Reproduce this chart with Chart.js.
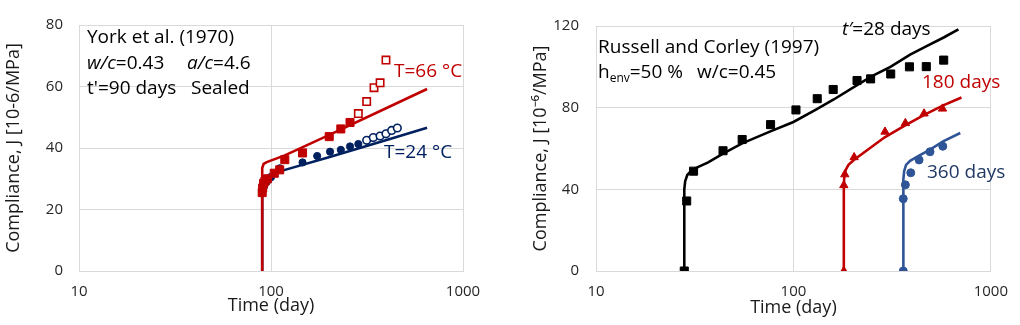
<!DOCTYPE html>
<html>
<head>
<meta charset="utf-8">
<script src="https://cdn.jsdelivr.net/npm/chart.js@4.4.1/dist/chart.umd.min.js"></script>
<style>
  body { margin: 0; background: #fff; width: 1020px; height: 325px; overflow: hidden; }
  #left { position: absolute; left: 0; top: 0; width: 500px; height: 325px; }
  #right { position: absolute; left: 510px; top: 0; width: 510px; height: 325px; }
</style>
</head>
<body>
<div id="left"><canvas id="yorkChart"></canvas></div>
<div id="right"><canvas id="russellChart"></canvas></div>
<script>
////Shared axis ticks
const timeTicks = [10, 100, 1000];

////York et al. (1970), t'=90 days, sealed
// T=66 °C measured (filled, then open squares)
const hotFilledT = [90, 90.5, 91.5, 93, 96, 104, 111, 118, 146, 201, 231, 258];
const hotFilledJ = [25.5, 27, 28.5, 29.2, 30, 31.8, 32.9, 36.2, 38.4, 43.7, 46.2, 48.3];
const hotOpenT = [285, 315, 344, 370, 397];
const hotOpenJ = [51.2, 55.1, 59.6, 61.2, 68.6];
// T=66 °C model
const hotFitT = [90, 90, 91.5, 95, 118, 200, 400, 650];
const hotFitJ = [0, 33.5, 34.8, 35.4, 37.6, 44.2, 53, 59.2];
// T=24 °C measured (filled, then open circles)
const coldFilledT = [92, 95, 100, 111, 146, 174, 203, 231, 258, 285];
const coldFilledJ = [27.5, 29, 30.5, 33.4, 35.3, 37.4, 38.8, 39.4, 40.5, 41.3];
const coldOpenT = [315, 341, 370, 397, 425, 455];
const coldOpenJ = [42.5, 43.4, 43.9, 44.6, 45.7, 46.5];
// T=24 °C model
const coldFitT = [90, 90, 92, 97, 111, 200, 400, 650];
const coldFitJ = [0, 27, 29.5, 31.2, 32.4, 37, 42.6, 46.6];
const yorkTicksY = [0, 20, 40, 60, 80];

////Russell and Corley (1997)
// t'=28 days
const age28T = [28, 28.8, 31.2, 44, 55, 76.6, 103, 132, 159, 210, 246, 311, 387, 471, 577];
const age28J = [0, 34.3, 48.9, 58.9, 64.4, 71.7, 78.9, 84.4, 88.9, 93.3, 94.1, 96.5, 100, 100.1, 103.3];
const age28FitT = [28, 28, 28.3, 29, 30.5, 33, 37, 44, 55, 77, 100, 130, 160, 210, 250, 310, 390, 470, 580, 685];
const age28FitJ = [0, 40, 44, 47, 49.3, 51, 53.2, 57.5, 62.5, 68.5, 73, 79, 84, 91, 95.5, 100, 106, 110, 114.5, 118.4];
// t'=180 days
const age180T = [180, 180, 182, 203, 291, 369, 459, 569];
const age180J = [0, 42, 47.3, 55.7, 68.2, 72.4, 77.1, 79.5];
const age180FitT = [180, 180, 181, 184, 190, 203, 290, 370, 460, 570, 710];
const age180FitJ = [0, 42, 46, 49.5, 52, 54.5, 65.5, 71.5, 76.5, 81, 85];
// t'=360 days
const age360T = [360, 360, 369, 393, 433, 492, 571];
const age360J = [0, 35.4, 42.2, 48.1, 54.4, 58.4, 61.1];
const age360FitT = [360, 360, 361, 364, 372, 390, 433, 492, 573, 700];
const age360FitJ = [0, 40, 45, 49, 52, 54, 56.5, 59.5, 63.5, 67.6];
const russellTicksY = [0, 40, 80, 120];

////Colors and fonts
const RED = '#c00000';
const NAVY = '#002060';
const BLUE = '#2f5597';
const BLUE_TEXT = '#203864';
const GRID = '#d9d9d9';
const TICK = '#262626';
const TITLE = '#1a1a1a';
const FONT = "'Open Sans', 'Liberation Sans', sans-serif";
const NOTE_SIZE = 19;

Chart.defaults.font.family = FONT;

//zip x and y arrays into points
function pts(xs, ys) {
    return xs.map((x, i) => ({ x: x, y: ys[i] }));
}

//scatter-only dataset
function markers(data, color, style, radius, filled) {
    return {
        data: data,
        showLine: false,
        pointStyle: style,
        pointRadius: radius,
        pointBackgroundColor: filled ? color : '#fff',
        pointBorderColor: color,
        pointBorderWidth: filled ? 1 : 1.6
    };
}

//model curve dataset
function curve(data, color) {
    return {
        data: data,
        borderColor: color,
        borderWidth: 2.6,
        pointRadius: 0,
        tension: 0,
        fill: false
    };
}

function xScale(titlePadBottom) {
    return {
        type: 'logarithmic',
        min: 10,
        max: 1000,
        afterBuildTicks: s => { s.ticks = timeTicks.map(v => ({ value: v })); },
        ticks: { padding: 12, color: TICK, font: { size: 15 }, autoSkip: false, maxRotation: 0, callback: v => String(v) },
        grid: { color: GRID, drawTicks: false },
        border: { color: GRID },
        title: { display: true, text: 'Time (day)', color: TITLE, font: { size: 18 }, padding: { top: 0, bottom: titlePadBottom } },
        afterFit: s => { s.height = 54; }
    };
}

function yScale(ticks, width, pad, title, titlePad) {
    return {
        type: 'linear',
        min: ticks[0],
        max: ticks[ticks.length - 1],
        afterBuildTicks: s => { s.ticks = ticks.map(v => ({ value: v })); },
        ticks: { padding: pad, color: TICK, font: { size: 15 } },
        grid: { color: GRID, drawTicks: false },
        border: { color: GRID },
        title: { display: true, text: title, color: TITLE, font: { size: 18 }, padding: { top: titlePad, bottom: 0 } },
        afterFit: s => { s.width = width; }
    };
}

//text notes drawn on top of the chart, parts may be italic or subscript
function notesPlugin(items) {
    return {
        id: 'notes',
        afterDraw(chart) {
            const ctx = chart.ctx;
            ctx.save();
            ctx.textBaseline = 'middle';
            items.forEach(n => {
                let x = n.x;
                n.parts.forEach(p => {
                    const part = typeof p === 'string' ? { text: p } : p;
                    const size = part.sub ? 12 : NOTE_SIZE;
                    ctx.font = (part.italic ? 'italic ' : '') + size + 'px ' + FONT;
                    ctx.fillStyle = n.color;
                    ctx.fillText(part.text, x, n.y + (part.sub ? 6 : 0));
                    x += ctx.measureText(part.text).width;
                });
            });
            ctx.restore();
        }
    };
}

const yorkNotes = [
    { x: 87, y: 38, color: '#000', parts: ['York et al. (1970)'] },
    { x: 87, y: 64, color: '#000', parts: [{ text: 'w/c', italic: true }, '=0.43'] },
    { x: 187, y: 64, color: '#000', parts: [{ text: 'a/c', italic: true }, '=4.6'] },
    { x: 87, y: 89, color: '#000', parts: ["t'=90 days"] },
    { x: 191, y: 89, color: '#000', parts: ['Sealed'] },
    { x: 394, y: 72, color: RED, parts: ['T=66 °C'] },
    { x: 384, y: 153, color: NAVY, parts: ['T=24 °C'] }
];

const russellNotes = [
    { x: 88, y: 48, color: '#000', parts: ['Russell and Corley (1997)'] },
    { x: 88, y: 73, color: '#000', parts: ['h', { text: 'env', sub: true }, '=50 %'] },
    { x: 187, y: 73, color: '#000', parts: ['w/c=0.45'] },
    { x: 332, y: 30, color: '#000', parts: [{ text: 't\u2032', italic: true }, '=28 days'] },
    { x: 412, y: 83, color: RED, parts: ['180 days'] },
    { x: 417, y: 173, color: BLUE_TEXT, parts: ['360 days'] }
];

///York chart
new Chart(document.getElementById('yorkChart'), {
    type: 'line',
    data: {
        datasets: [
            markers(pts(hotFilledT, hotFilledJ), RED, 'rect', 5.7, true),
            markers(pts(hotOpenT, hotOpenJ), RED, 'rect', 5.2, false),
            markers(pts(coldFilledT, coldFilledJ), NAVY, 'circle', 3.6, true),
            markers(pts(coldOpenT, coldOpenJ), NAVY, 'circle', 3.8, false),
            curve(pts(hotFitT, hotFitJ), RED),
            curve(pts(coldFitT, coldFitJ), NAVY)
        ]
    },
    options: {
        responsive: true,
        maintainAspectRatio: false,
        animation: false,
        layout: { padding: { top: 17, right: 37, left: 0, bottom: 0 } },
        plugins: { legend: { display: false }, tooltip: { enabled: false } },
        scales: {
            x: xScale(8),
            y: yScale(yorkTicksY, 79, 16, 'Compliance, J [10-6/MPa]', 3)
        }
    },
    plugins: [notesPlugin(yorkNotes)]
});

///Russell and Corley chart
new Chart(document.getElementById('russellChart'), {
    type: 'line',
    data: {
        datasets: [
            markers(pts(age28T, age28J), '#000', 'rect', 5.7, true),
            markers(pts(age180T, age180J), RED, 'triangle', 4.8, true),
            markers(pts(age360T, age360J), BLUE, 'circle', 4, true),
            curve(pts(age28FitT, age28FitJ), '#000'),
            curve(pts(age180FitT, age180FitJ), RED),
            curve(pts(age360FitT, age360FitJ), BLUE)
        ]
    },
    options: {
        responsive: true,
        maintainAspectRatio: false,
        animation: false,
        layout: { padding: { top: 19, right: 22, left: 0, bottom: 0 } },
        plugins: { legend: { display: false }, tooltip: { enabled: false } },
        scales: {
            x: xScale(6),
            y: yScale(russellTicksY, 86, 17, 'Compliance, J [10\u207B\u2076/MPa]', 20)
        }
    },
    plugins: [notesPlugin(russellNotes)]
});
</script>
</body>
</html>
